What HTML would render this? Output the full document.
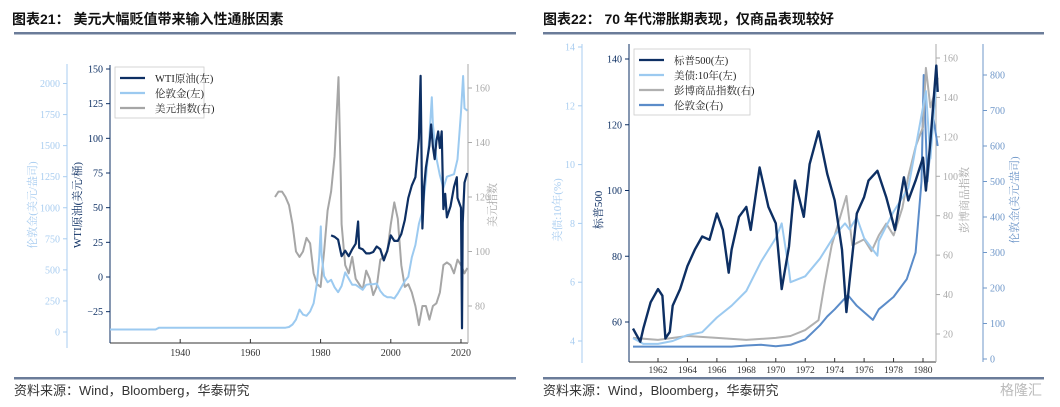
<!DOCTYPE html>
<html><head><meta charset="utf-8">
<style>
html,body{margin:0;padding:0;background:#fff;}
body{width:1060px;height:407px;overflow:hidden;position:relative;font-family:"Liberation Sans","Noto Sans CJK SC",sans-serif;}
svg{position:absolute;left:0;top:0;}
</style></head>
<body>
<svg id="s" width="1060" height="407" viewBox="0 0 1060 407">
  <g>
    <text x="12" y="24" font-size="14" font-weight="bold" fill="#111" font-family="Liberation Sans, Noto Sans CJK SC, sans-serif">图表21：  美元大幅贬值带来输入性通胀因素</text>
    <rect x="14" y="32" width="502" height="2.5" fill="#6b7c99"/>
  </g>
  <g>
    <text x="543" y="24" font-size="14" font-weight="bold" fill="#111" font-family="Liberation Sans, Noto Sans CJK SC, sans-serif">图表22：  70 年代滞胀期表现，仅商品表现较好</text>
    <rect x="543" y="32" width="501" height="2.5" fill="#6b7c99"/>
  </g>
  <rect x="14" y="377" width="502" height="2.5" fill="#6b7c99"/>
  <rect x="543" y="377" width="501" height="2.5" fill="#6b7c99"/>
  <text x="14" y="395" font-size="13" fill="#333">资料来源：Wind，Bloomberg，华泰研究</text>
  <text x="543" y="395" font-size="13" fill="#333">资料来源：Wind，Bloomberg，华泰研究</text>
  <text x="1000" y="395" font-size="14" fill="#bbb">格隆汇</text>
  <g id="c1"></g>
  <g id="c2"></g>
</svg>
<script>
// ---------- Chart 1 data ----------
const goldYears1 = [1920,1933,1934,1970,1971,1972,1973,1974,1975,1976,1977,1978,1979,1979.6,1980.05,1980.3,1981,1982,1983,1984,1985,1986,1987,1988,1989,1990,1991,1992,1993,1994,1995,1996,1997,1998,1999,2000,2001,2002,2003,2004,2005,2006,2007,2008,2009,2010,2011,2011.7,2012,2013,2014,2015,2016,2017,2018,2019,2020,2020.6,2021,2021.8];
const goldValues1 = [20,20,35,35,40,60,100,180,140,130,165,230,400,600,850,620,450,400,420,360,320,370,480,430,380,380,360,340,380,385,385,390,330,295,280,280,270,310,360,410,445,600,700,870,970,1225,1570,1890,1670,1400,1260,1160,1250,1260,1270,1390,1770,2060,1800,1780];
const wtiYears = [1983,1984,1985,1986,1987,1988,1989,1990,1990.7,1991,1992,1993,1994,1995,1996,1997,1998,1999,2000,2001,2002,2003,2004,2005,2006,2007,2008,2008.5,2009,2009.5,2010,2011,2011.5,2012,2012.5,2013,2013.5,2014,2014.5,2015,2015.5,2016,2017,2018,2018.8,2019,2020,2020.3,2020.5,2021,2021.8];
const wtiValues = [30,29,27,15,19,15,20,24,40,21,20,17,17,18,22,20,12,19,30,26,26,31,41,57,66,72,100,145,35,65,79,95,110,94,85,98,105,93,105,49,60,43,51,65,72,57,50,-37,39,68,75];
const dxyYears = [1967,1968,1969,1970,1971,1972,1973,1974,1975,1976,1977,1978,1979,1980,1981,1982,1983,1984,1985.1,1985.8,1986,1987,1988,1989,1990,1991,1992,1993,1994,1995,1996,1997,1998,1999,2000,2001,2002,2003,2004,2005,2006,2007,2008,2009,2010,2011,2012,2013,2014,2015,2016,2017,2018,2019,2020,2021,2021.8];
const dxyValues = [120,122,122,120,117,110,100,98,100,105,103,92,88,87,100,115,122,135,164,125,110,95,92,98,90,88,86,93,90,84,87,97,98,100,110,118,112,95,87,88,85,80,73,80,80,75,80,81,85,95,96,95,92,97,95,92,94];
const xTicks1 = [1940,1960,1980,2000,2020];
const wtiTicks = [-25,0,25,50,75,100,125,150];
const goldTicks1 = [0,250,500,750,1000,1250,1500,1750,2000];
const dxyTicks = [80,100,120,140,160];

// ---------- Chart 2 data ----------
const spxYears = [1960.3,1960.8,1961.0,1961.5,1962.0,1962.3,1962.5,1962.8,1963.0,1963.5,1964.0,1964.5,1965.0,1965.5,1966.0,1966.4,1966.8,1967.0,1967.5,1968.0,1968.3,1968.9,1969.5,1970.0,1970.4,1970.9,1971.3,1971.9,1972.3,1972.9,1973.5,1974.0,1974.5,1974.8,1975.0,1975.5,1976.0,1976.3,1976.9,1977.5,1978.1,1978.7,1979.0,1979.5,1980.0,1980.2,1980.5,1980.9,1981.0];
const spxValues = [58,54,58,66,70,68,55,57,65,70,77,82,86,85,93,88,75,82,92,95,88,107,95,90,70,83,103,92,108,118,105,97,82,63,72,93,98,103,106,98,88,104,97,103,110,100,115,138,130];
const bondYears = [1960.3,1961,1962,1963,1964,1965,1966,1967,1968,1969,1970,1970.4,1970.9,1971,1972,1973,1974,1974.7,1975,1975.5,1976,1976.9,1977,1978,1979,1980.2,1980.5,1980.9,1981];
const bondValues = [4.1,3.9,3.9,4.0,4.2,4.3,4.8,5.2,5.7,6.7,7.5,8.0,6.4,6.0,6.2,6.8,7.6,8.0,7.8,8.2,7.5,6.9,7.4,8.4,9.2,12.5,10.2,12.8,12.5];
const cmdYears = [1960.3,1962,1964,1966,1968,1970,1971,1972,1972.9,1973.3,1973.8,1974.2,1974.8,1975.2,1976,1976.5,1977,1977.5,1978,1978.6,1979,1979.5,1980.0,1980.2,1980.5,1980.9,1981];
const cmdValues = [18,17,19,18,17,18,19,22,27,45,65,75,90,65,68,62,70,76,70,84,100,115,125,155,135,145,150];
const goldYears2 = [1960.3,1967,1968,1969,1970,1971,1972,1973,1973.5,1974,1974.9,1975.5,1976.6,1977,1978,1978.9,1979.5,1979.9,1980.05,1980.3,1980.7,1981];
const goldValues2 = [35,35,38,40,36,40,55,95,120,140,180,150,110,140,175,225,300,500,800,500,680,600];
const xTicks2 = [1962,1964,1966,1968,1970,1972,1974,1976,1978,1980];
const spxTicks = [60,80,100,120,140];
const bondTicks = [4,6,8,10,12,14];
const cmdTicks = [20,40,60,80,100,120,140,160];
const goldTicks2 = [0,100,200,300,400,500,600,700,800];

const NS = 'http://www.w3.org/2000/svg';
function el(tag, attrs, parent){ const e=document.createElementNS(NS,tag); for(const k in attrs) e.setAttribute(k,attrs[k]); parent.appendChild(e); return e; }
function lin(d0,d1,r0,r1){ return v => r0 + (v-d0)/(d1-d0)*(r1-r0); }
function pathD(xs,ys,sx,sy){ return xs.map((x,i)=>(i?'L':'M')+sx(x).toFixed(1)+','+sy(ys[i]).toFixed(1)).join(''); }
const FS = 'Liberation Serif, Noto Serif CJK SC, serif';

function vAxis(g, x, y0, y1, ticks, sc, color, side, name){
  const a = el('line',{x1:x,x2:x,y1:y0,y2:y1,stroke:color,'stroke-width':1},g);
  
  
  ticks.forEach(t=>{
    const y=sc(t);
    const tk = el('line',{x1:x,x2:x+(side<0?-4:4),y1:y,y2:y,stroke:color},g);
    
    
    const tx = el('text',{x:x+(side<0?-7:7),y:y+3.5,'font-size':10,fill:color,'text-anchor':side<0?'end':'start','font-family':FS},g);
    tx.textContent = t<0 ? '−'+(-t) : t;
    
    
  });
}
function vTitle(g,x,y,text,color,name){
  const t = el('text',{x:x,y:y,'font-size':11,fill:color,'text-anchor':'middle',transform:`rotate(-90 ${x} ${y})`,'font-family':FS},g);
  t.textContent=text;
  
  
}
function series(g,xs,ys,sx,sy,color,w,name){
  const p = el('path',{d:pathD(xs,ys,sx,sy),fill:'none',stroke:color,'stroke-width':w,'stroke-linejoin':'round'},g);
  
  
}
function legend(g,x,y,w,items){
  const b = el('rect',{x:x,y:y,width:w,height:items.length*15+6,fill:'#fff',stroke:'#ccc','stroke-width':0.8},g);
  
  
  items.forEach((it,i)=>{
    const yy=y+11+i*15;
    const l = el('line',{x1:x+5,x2:x+30,y1:yy,y2:yy,stroke:it[1],'stroke-width':2.2},g);
    
    
    const t = el('text',{x:x+40,y:yy+4,'font-size':10.5,fill:'#222','font-family':FS},g);
    t.textContent=it[0];
    
    
  });
}

// ---------- Chart 1 ----------
(function(){
  const g=document.getElementById('c1');
  const L=110,R=468,T=65,B=343;
  const sx=lin(1920,2022,L,R);
  const sWti=lin(0,150,277,69);
  const sGold=lin(0,2000,332,83.5);
  const sDxy=lin(80,160,306,88);
  const xa = el('line',{x1:L,x2:R,y1:B,y2:B,stroke:'#333'},g);
  
  
  xTicks1.forEach(t=>{
    const x=sx(t);
    const tk = el('line',{x1:x,x2:x,y1:B,y2:B-4,stroke:'#333'},g);
    
    
    const tx = el('text',{x:x,y:B+13,'font-size':10,fill:'#333','text-anchor':'middle','font-family':FS},g);
    tx.textContent=t;
    
    
  });
  vAxis(g,L,T,B,wtiTicks,sWti,'#0d2f63',-1,'wti-axis');
  vAxis(g,67,64,348,goldTicks1,sGold,'#a9cdf0',-1,'gold-axis-left');
  vAxis(g,R,64,B,dxyTicks,sDxy,'#aaaaaa',1,'dxy-axis');
  vTitle(g,81,205,'WTI原油(美元/桶)','#0d2f63','wti-axis-title');
  vTitle(g,36,205,'伦敦金(美元/盎司)','#a9cdf0','gold-axis-title-left');
  vTitle(g,496,205,'美元指数','#aaaaaa','dxy-axis-title');
  series(g,dxyYears,dxyValues,sx,sDxy,'#a6a6a6',2,'dxy-line');
  series(g,goldYears1,goldValues1,sx,sGold,'#9ccaf0',2,'gold-line-left');
  series(g,wtiYears,wtiValues,sx,sWti,'#0d2f63',2.2,'wti-line');
  legend(g,115,67,89,[['WTI原油(左)','#0d2f63'],['伦敦金(左)','#9ccaf0'],['美元指数(右)','#a6a6a6']]);
})();

// ---------- Chart 2 ----------
(function(){
  const g=document.getElementById('c2');
  const L=629,R=936,T=44,B=362;
  const sx=lin(1962,1980,658,923);
  const sSpx=lin(60,140,322,59);
  const sBond=lin(4,14,341,47);
  const sCmd=lin(20,160,334,58);
  const sGold=lin(0,800,359,75);
  const xa = el('line',{x1:L,x2:R,y1:B,y2:B,stroke:'#333'},g);
  
  
  xTicks2.forEach(t=>{
    const x=sx(t);
    const tk = el('line',{x1:x,x2:x,y1:B,y2:B-4,stroke:'#333'},g);
    
    
    const tx = el('text',{x:x,y:B+11,'font-size':9.5,fill:'#333','text-anchor':'middle','font-family':FS},g);
    tx.textContent=t;
    
    
  });
  vAxis(g,L,T,B,spxTicks,sSpx,'#0d2f63',-1,'spx-axis');
  vAxis(g,582,44,363,bondTicks,sBond,'#a9cdf0',-1,'bond-axis');
  vAxis(g,R,T,B,cmdTicks,sCmd,'#aaaaaa',1,'commodity-axis');
  vAxis(g,983,44,362,goldTicks2,sGold,'#6f97c9',1,'gold-axis-right');
  vTitle(g,602,210,'标普500','#0d2f63','spx-axis-title');
  vTitle(g,561,210,'美债:10年(%)','#a9cdf0','bond-axis-title');
  vTitle(g,968,200,'彭博商品指数','#aaaaaa','commodity-axis-title');
  vTitle(g,1018,200,'伦敦金(美元/盎司)','#6f97c9','gold-axis-title-right');
  series(g,goldYears2,goldValues2,sx,sGold,'#5b8cc9',2,'gold-line-right');
  series(g,cmdYears,cmdValues,sx,sCmd,'#b0b0b0',2,'commodity-line');
  series(g,bondYears,bondValues,sx,sBond,'#9ccaf0',2,'bond-line');
  series(g,spxYears,spxValues,sx,sSpx,'#0d2f63',2.4,'spx-line');
  legend(g,634,49,116,[['标普500(左)','#0d2f63'],['美债:10年(左)','#9ccaf0'],['彭博商品指数(右)','#b0b0b0'],['伦敦金(右)','#5b8cc9']]);
})();
</script>
</body></html>
